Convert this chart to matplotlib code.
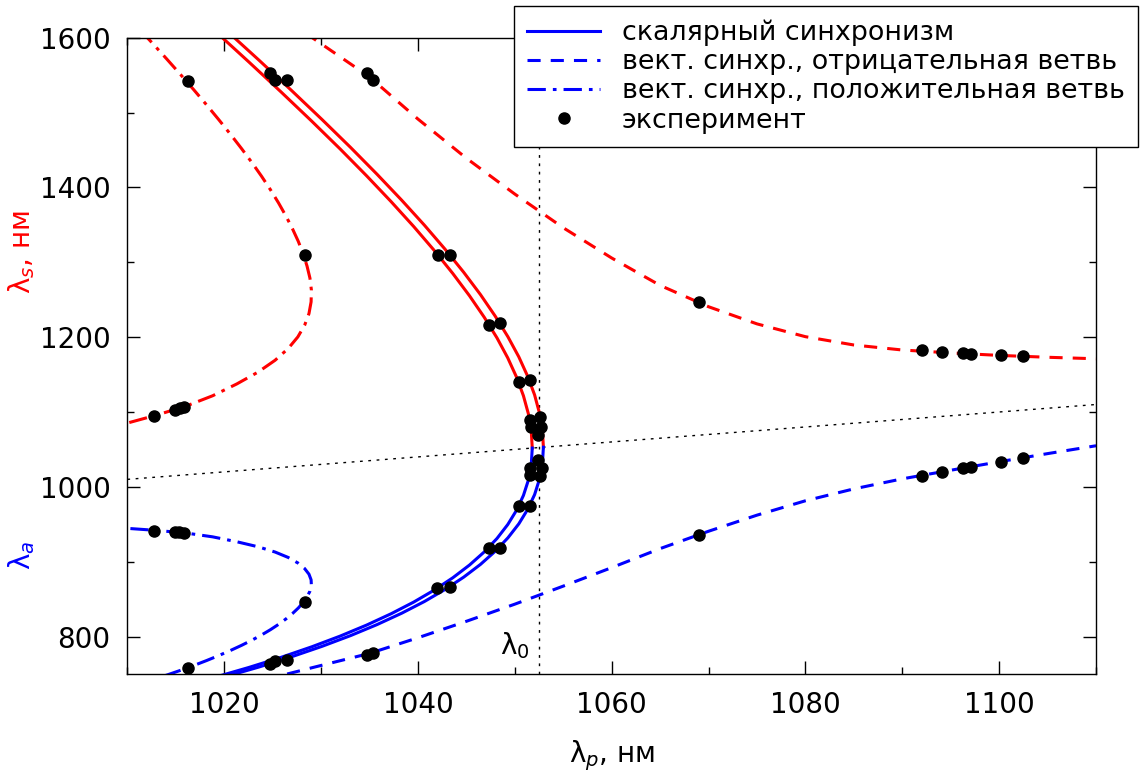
import matplotlib
matplotlib.use("Agg")
from matplotlib import pyplot as plt
from matplotlib.ticker import MultipleLocator
from matplotlib.transforms import blended_transform_factory

RED = "#ff0000"
BLUE = "#0000ff"

# scalar synchronism, inner curve: pump, signal (red) and anti-Stokes (blue)
sc1_lp = [1019.01, 1022.55, 1025.89, 1029.03, 1031.97, 1034.70, 1037.23, 1039.56, 1041.68, 1043.60,
          1045.32, 1046.84, 1048.16, 1049.27, 1050.18, 1050.89, 1051.40, 1051.70, 1051.8]
sc1_ls = [1609.41, 1567.52, 1527.27, 1488.56, 1451.34, 1415.50, 1381.01, 1347.80, 1315.81, 1284.98,
          1255.26, 1226.61, 1198.96, 1172.28, 1146.50, 1121.61, 1097.56, 1074.29, 1051.8]
sc1_la = [745.52, 758.76, 772.34, 786.29, 800.63, 815.35, 830.49, 846.06, 862.08, 878.56,
          895.54, 913.03, 931.05, 949.63, 968.79, 988.56, 1008.97, 1030.03, 1051.8]

# scalar synchronism, outer curve
sc2_lp = [1020.03, 1023.59, 1026.94, 1030.09, 1033.04, 1035.78, 1038.32, 1040.66, 1042.79, 1044.72,
          1046.45, 1047.97, 1049.29, 1050.41, 1051.32, 1052.04, 1052.54, 1052.85, 1052.95]
sc2_ls = [1611.96, 1569.97, 1529.60, 1490.78, 1453.46, 1417.53, 1382.94, 1349.65, 1317.58, 1286.68,
          1256.89, 1228.16, 1200.44, 1173.70, 1147.86, 1122.92, 1098.80, 1075.50, 1052.95]
sc2_la = [746.07, 759.33, 772.94, 786.91, 801.27, 816.02, 831.19, 846.79, 862.84, 879.36,
          896.37, 913.89, 931.94, 950.56, 969.76, 989.58, 1010.02, 1031.14, 1052.95]

# vector synchronism, negative branch
neg_lp = [1026.5, 1029.1, 1035, 1040, 1045, 1050, 1055, 1060, 1065, 1070,
          1075, 1080, 1085, 1090, 1095, 1100, 1105, 1110]
neg_ls = [1625.9, 1599.9, 1547.6, 1491.3, 1439.0, 1391.1, 1346.1, 1305.7, 1269.1, 1240.6,
          1217.7, 1200.6, 1189.5, 1182.8, 1178.9, 1175.6, 1173.1, 1171.1]
neg_la = [750.0, 758.5, 777.5, 798.4, 820.4, 843.3, 867.4, 892.1, 917.5, 940.7,
          962.2, 981.4, 997.3, 1010.7, 1022.2, 1033.5, 1044.4, 1054.9]

# vector synchronism, positive branch
pos_lp = [1006.6, 1010.0, 1013.2, 1016.2, 1018.8, 1021.3, 1023.5, 1025.25, 1026.6, 1027.6,
          1028.3, 1028.75, 1028.97, 1029.0, 1028.85, 1028.55, 1028.15, 1027.65, 1027.05, 1026.37,
          1025.61, 1024.77, 1023.85, 1022.85, 1021.78, 1020.64, 1019.44, 1018.18, 1016.86, 1015.48,
          1014.04, 1012.54, 1010.98]
pos_ls = [1073.6, 1085.19, 1096.52, 1108.58, 1121.65, 1137.47, 1153.35, 1169.08, 1184.71, 1200.28,
          1215.84, 1231.45, 1247.12, 1262.92, 1278.84, 1294.94, 1311.27, 1327.86, 1344.70, 1361.83,
          1379.26, 1396.98, 1415.02, 1433.36, 1452.04, 1471.07, 1490.47, 1510.24, 1530.41, 1550.97,
          1571.94, 1593.33, 1615.15]
pos_la = [947.47, 944.56, 941.64, 938.03, 933.23, 926.66, 919.93, 912.93, 905.72, 898.36,
          890.89, 883.35, 875.78, 868.19, 860.62, 853.07, 845.58, 838.16, 830.80, 823.52,
          816.31, 809.17, 802.11, 795.13, 788.22, 781.39, 774.64, 767.96, 761.37, 754.85,
          748.42, 742.05, 735.76]

# experiment
exp_s_lp = [1016.27, 1024.71, 1025.23, 1026.5, 1034.73, 1035.35, 1028.33, 1042.02, 1043.26,
            1047.29, 1048.5, 1050.39, 1051.53, 1051.6, 1052.56, 1051.67, 1052.7, 1052.36,
            1069.0, 1092.07, 1094.13, 1096.3, 1097.13, 1100.15, 1102.5,
            1012.72, 1014.96, 1015.41, 1015.83]
exp_s = [1542.8, 1553, 1543.2, 1543.2, 1553, 1543.2, 1310.2, 1310.2, 1310.2,
         1216.6, 1218.8, 1139.5, 1142.2, 1089.6, 1093.2, 1080.6, 1079.3, 1069.5,
         1246.4, 1182.3, 1180.1, 1178.7, 1177.8, 1175.5, 1175.1,
         1094, 1103, 1105.2, 1106.5]
exp_a_lp = [1052.36, 1051.6, 1052.8, 1051.6, 1052.6, 1050.39, 1051.53, 1047.29, 1048.5,
            1042.0, 1043.26, 1012.72, 1014.9, 1015.37, 1015.83, 1028.33, 1016.24,
            1024.71, 1025.23, 1026.5, 1034.76, 1035.35,
            1069.0, 1092.07, 1094.13, 1096.3, 1097.13, 1100.15, 1102.5]
exp_a = [1036.1, 1025, 1025, 1016, 1014.7, 974.6, 974.6, 918.9, 918.9,
         864.6, 866.7, 941.6, 939.4, 939.4, 938, 845.9, 757.6,
         763.4, 767.4, 768.7, 775.4, 778.5,
         935.8, 1014.7, 1019.6, 1025, 1027.1, 1033.4, 1038.4]

lam0 = 1052.45
diag = [1010, 1110]

legend_labels = ["скалярный синхронизм",
                 "вект. синхр., отрицательная ветвь",
                 "вект. синхр., положительная ветвь",
                 "эксперимент"]

plt.rcParams["font.family"] = ["DejaVu Sans"]
plt.rcParams["font.size"] = 20

fig = plt.figure(figsize=(11.41, 7.74), dpi=100)
ax = fig.add_axes([0.1116, 0.1292, 0.8490, 0.8221])

lw = 2.2
dash = (4.3, 3.3)
dashdot = (6, 2.3, 1.2, 2.3)

ax.axvline(lam0, color="k", lw=1, ls=(0, (2, 4)), zorder=1)
ax.plot(diag, diag, color="k", lw=1, ls=(0, (2, 4)), zorder=1)

for lp, ls_, la in [(sc1_lp, sc1_ls, sc1_la), (sc2_lp, sc2_ls, sc2_la)]:
    ax.plot(lp, ls_, color=RED, lw=lw, zorder=2)
    h_sc, = ax.plot(lp, la, color=BLUE, lw=lw, zorder=2)

ax.plot(neg_lp, neg_ls, color=RED, lw=lw, ls=(0, dash), zorder=2)
h_neg, = ax.plot(neg_lp, neg_la, color=BLUE, lw=lw, ls=(0, dash), zorder=2)

ax.plot(pos_lp, pos_ls, color=RED, lw=lw, ls=(0, dashdot), zorder=2)
h_pos, = ax.plot(pos_lp, pos_la, color=BLUE, lw=lw, ls=(0, dashdot), zorder=2)

h_exp, = ax.plot(exp_s_lp, exp_s, "o", color="k", ms=8, zorder=3)
ax.plot(exp_a_lp, exp_a, "o", color="k", ms=8, zorder=3)

ax.text(1050.05, 787.5, "λ$_0$", ha="center", va="center", fontsize=20)

ax.set_xlim(1010, 1110)
ax.set_ylim(750, 1600)
ax.set_xticks([1020, 1040, 1060, 1080, 1100])
ax.set_yticks([800, 1000, 1200, 1400, 1600])
ax.xaxis.set_minor_locator(MultipleLocator(10))
ax.yaxis.set_minor_locator(MultipleLocator(100))
ax.tick_params(which="both", direction="in", top=True, right=True, width=1, labelsize=20)
ax.tick_params(which="major", length=9.4, pad=12)
ax.tick_params(which="minor", length=5)
for sp in ax.spines.values():
    sp.set_linewidth(1)

ax.set_xlabel("λ$_p$, нм", fontsize=20, labelpad=14)
tr = blended_transform_factory(ax.transAxes, ax.transData)
ax.text(-0.109, 1314, "λ$_s$, нм", color=RED, rotation=90, ha="center", va="center",
        fontsize=20, transform=tr)
ax.text(-0.109, 908, "λ$_a$", color=BLUE, rotation=90, ha="center", va="center",
        fontsize=20, transform=tr)

leg = fig.legend([h_sc, h_neg, h_pos, h_exp], legend_labels, loc="upper left",
                 bbox_to_anchor=(514 / 1141, 1 - 6 / 774), fontsize=19.4,
                 frameon=True, fancybox=False, framealpha=1, edgecolor="k",
                 labelspacing=0.12, handlelength=2.7, handletextpad=0.8,
                 borderpad=0.5, borderaxespad=0)
leg.get_frame().set_linewidth(1)

fig.savefig("out.png", dpi=100)
